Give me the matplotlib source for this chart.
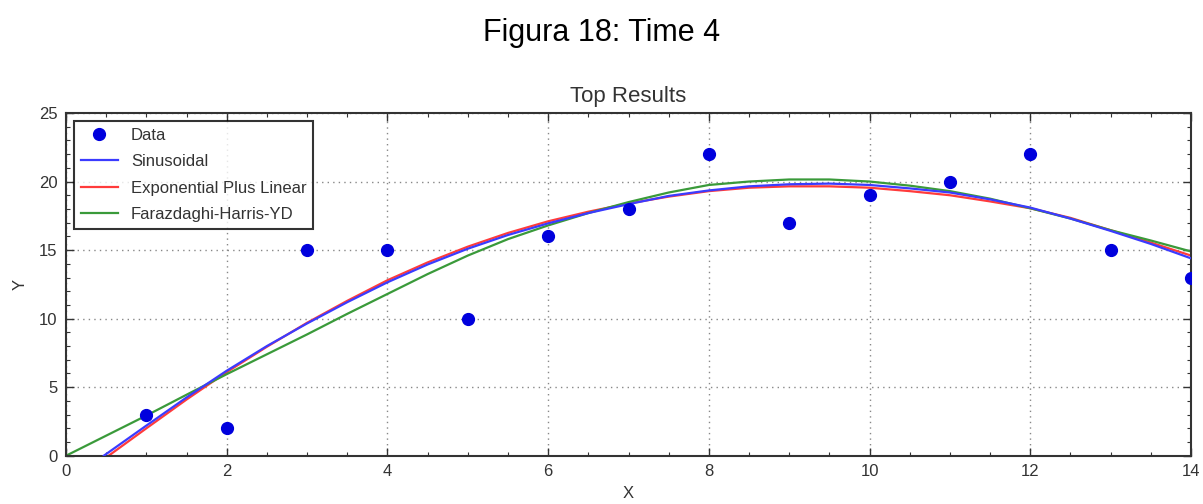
import numpy as np
import matplotlib
matplotlib.use('Agg')
import matplotlib.pyplot as plt

plt.rcParams['font.family'] = ['Liberation Sans', 'DejaVu Sans']

# donnees
x_data = [1, 2, 3, 4, 5, 6, 7, 8, 9, 10, 11, 12, 13, 14]
y_data = [3, 2, 15, 15, 10, 16, 18, 22, 17, 19, 20, 22, 15, 13]

# courbes ajustees
x_sin = [0.47, 1, 1.5, 2, 2.5, 3, 3.5, 4, 4.5, 5, 5.5, 6, 6.5, 7, 7.5, 8, 8.5,
         9, 9.5, 10, 10.5, 11, 11.5, 12, 12.5, 13, 13.5, 14]
y_sin = [0.0, 2.2, 4.25, 6.2, 8.0, 9.65, 11.2, 12.65, 13.95, 15.1, 16.1, 16.95, 17.7,
         18.35, 18.95, 19.35, 19.65, 19.8, 19.85, 19.75, 19.5, 19.2, 18.7, 18.1,
         17.3, 16.4, 15.45, 14.4]

x_exp = [0.53, 1, 1.5, 2, 2.5, 3, 3.5, 4, 4.5, 5, 5.5, 6, 6.5, 7, 7.5, 8, 8.5,
         9, 9.5, 10, 10.5, 11, 11.5, 12, 12.5, 13, 13.5, 14]
y_exp = [0.0, 2.0, 4.1, 6.1, 7.95, 9.7, 11.3, 12.8, 14.1, 15.25, 16.25, 17.1, 17.8,
         18.4, 18.9, 19.3, 19.55, 19.65, 19.65, 19.55, 19.3, 19.0, 18.55, 18.05,
         17.35, 16.45, 15.55, 14.6]

x_fh = [0, 1, 1.5, 2, 2.5, 3, 3.5, 4, 4.5, 5, 5.5, 6, 6.5, 7, 7.5, 8, 8.5,
        9, 9.5, 10, 10.5, 11, 11.5, 12, 12.5, 13, 13.5, 14]
y_fh = [0.0, 2.93, 4.45, 5.95, 7.4, 8.85, 10.35, 11.8, 13.25, 14.6, 15.8, 16.8, 17.7,
        18.5, 19.2, 19.75, 20.0, 20.15, 20.15, 20.0, 19.7, 19.3, 18.75, 18.05,
        17.3, 16.45, 15.7, 14.9]

fig = plt.figure(figsize=(12.03, 5.04), dpi=100)
ax = fig.add_axes([0.0549, 0.0958, 0.9351, 0.68])

ax.plot(x_data, y_data, 'o', color='#0000dd', markersize=8.5, label='Data', zorder=4)
ax.plot(x_sin, y_sin, color='#3b3bff', lw=1.6, label='Sinusoidal', zorder=3)
ax.plot(x_exp, y_exp, color='#ff3b3b', lw=1.6, label='Exponential Plus Linear', zorder=2)
ax.plot(x_fh, y_fh, color='#3a9a3a', lw=1.6, label='Farazdaghi-Harris-YD', zorder=2)

ax.set_xlim(0, 14)
ax.set_ylim(0, 25)
ax.set_xticks(np.arange(0, 15, 2))
ax.set_yticks(np.arange(0, 26, 5))
ax.set_xticks(np.arange(0, 14.01, 0.5), minor=True)
ax.set_yticks(np.arange(0, 25.01, 1), minor=True)
ax.tick_params(which='both', direction='in', top=True, right=True, colors='#333333', labelsize=12)
ax.tick_params(which='major', length=6, width=1, pad=6)
ax.tick_params(which='minor', length=3, width=0.8)
ax.grid(True, which='major', linestyle=(0, (1, 3)), color='#888888', lw=1)
for s in ax.spines.values():
    s.set_color('#333333')
    s.set_linewidth(1.5)

ax.set_xlabel('X', fontsize=12, color='#333333', labelpad=5)
ax.set_ylabel('Y', fontsize=12, color='#333333', labelpad=8)
ax.set_title('Top Results', fontsize=16, color='#333333', pad=8)

leg = ax.legend(loc='upper left', fontsize=12, frameon=True, fancybox=False,
                borderaxespad=0.5, handlelength=2.2, labelspacing=0.68)
leg.get_frame().set_edgecolor('black')
leg.get_frame().set_linewidth(1.5)
for t in leg.get_texts():
    t.set_color('#333333')

fig.text(0.5, 0.935, 'Figura 18: Time 4', ha='center', va='center', fontsize=22)

fig.savefig('out.png', dpi=100)
